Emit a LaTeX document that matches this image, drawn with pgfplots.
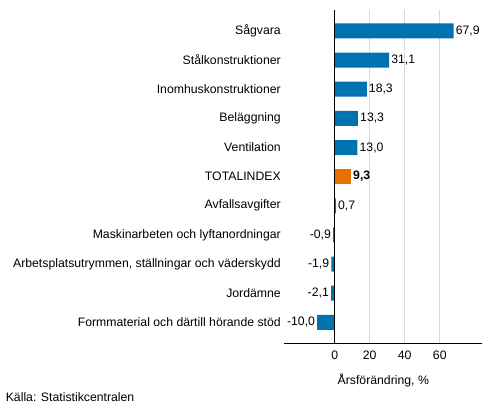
\documentclass[border=0pt]{standalone}
\usepackage{pgfplots}
\pgfplotsset{compat=1.18}
\usepackage{fontspec}
\setmainfont{Liberation Sans}
\definecolor{sfblue}{RGB}{0,114,176}
\definecolor{sforange}{RGB}{232,114,0}
\definecolor{gridgray}{RGB}{217,217,217}
\newcommand{\chartfont}{\fontsize{12.3}{14}\selectfont}

\begin{document}
\begin{tikzpicture}[font=\chartfont]
\useasboundingbox (-284.3bp,-72.7bp) rectangle (208.7bp,343.3bp);
\begin{axis}[%
width=198bp,
height=333.3bp,
at={(0,0)},
anchor=south west,
scale only axis,
clip=false,
xmin=-28.8,
xmax=84.3,
ymin=-0.72,
ymax=10.72,
y dir=reverse,
axis x line*=bottom,
axis y line*=left,
x axis line style={-, line width=0.8pt},
y axis line style={draw=none},
major tick length=0pt,
xtick={0,20,40,60},
ytick={0,1,2,3,4,5,6,7,8,9,10},
yticklabels={Sågvara,Stålkonstruktioner,Inomhuskonstruktioner,Beläggning,Ventilation,TOTALINDEX,Avfallsavgifter,Maskinarbeten och lyftanordningar,{Arbetsplatsutrymmen, ställningar och väderskydd},Jordämne,Formmaterial och därtill hörande stöd},
xmajorgrids,
grid style={draw=gridgray, line width=0.8pt},
xlabel={Årsförändring, \%},
/pgf/number format/assume math mode=true,
/pgf/number format/use comma,
/pgf/number format/1000 sep={},
ticklabel style={font=\chartfont},
xticklabel style={yshift=-4bp},
xlabel style={font=\chartfont, yshift=-7bp},
point meta=x,
nodes near coords={\pgfmathprintnumber[fixed,fixed zerofill,precision=1,use comma]{\pgfplotspointmeta}},
nodes near coords style={font=\chartfont, inner sep=2pt},
]
% positive changes
\addplot[xbar, bar width=15bp, bar shift=0pt, fill=sfblue, draw=none,
  nodes near coords style={anchor=west}] coordinates {
(67.9,0) (31.1,1) (18.3,2) (13.3,3) (13.0,4) (0.7,6)
};
% total index
\addplot[xbar, bar width=15bp, bar shift=0pt, fill=sforange, draw=none,
  nodes near coords style={anchor=west, font=\chartfont\bfseries}] coordinates {
(9.3,5)
};
% negative changes
\addplot[xbar, bar width=15bp, bar shift=0pt, fill=sfblue, draw=none,
  nodes near coords style={anchor=east}] coordinates {
(-0.9,7) (-1.9,8) (-2.1,9) (-10.0,10)
};
% zero line
\addplot[black, line width=1pt, no marks, nodes near coords={}] coordinates {
(0,-0.72) (0,10.72)
};
\end{axis}
\node[anchor=west] at (-282bp,-53.7bp) {Källa: Statistikcentralen};
\end{tikzpicture}
\end{document}
